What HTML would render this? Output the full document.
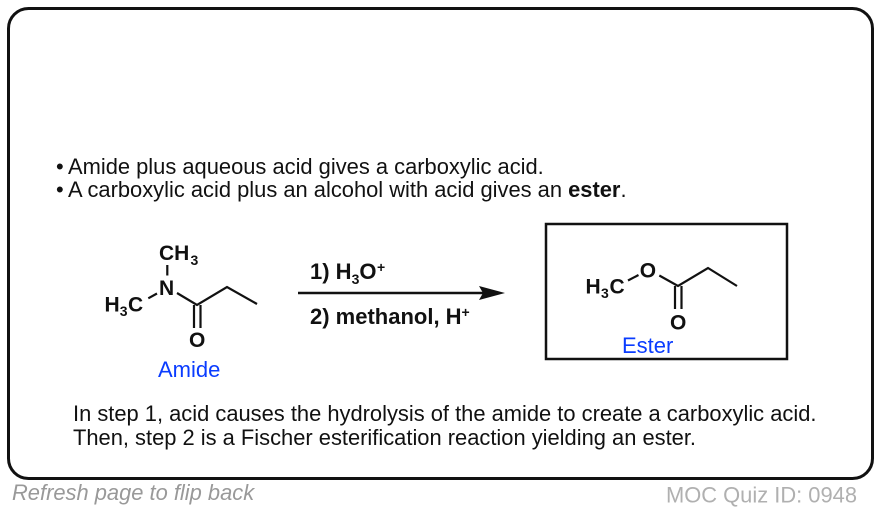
<!DOCTYPE html>
<html>
<head>
<meta charset="utf-8">
<style>
html,body{margin:0;padding:0;background:#fff;width:880px;height:510px;overflow:hidden}
svg{display:block}
text{font-family:"Liberation Sans",Arial,sans-serif}
.t{font-size:21.9px;fill:#111}
.c{font-size:21px;font-weight:bold;fill:#111}
.s{font-size:14px;font-weight:bold;fill:#111}
.r{font-size:22px;font-weight:bold;fill:#111}
.b{font-size:22px;fill:#0a3cff}
.l{stroke:#111;stroke-width:2.2;fill:none;stroke-linecap:butt}
</style>
</head>
<body>
<svg width="880" height="510" viewBox="0 0 880 510" xmlns="http://www.w3.org/2000/svg">
<rect x="8.5" y="8.5" width="864" height="470" rx="20" ry="20" fill="#fff" stroke="#111" stroke-width="3"/>

<text class="t" x="56" y="174">•</text>
<text class="t" x="68" y="174">Amide plus aqueous acid gives a carboxylic acid.</text>
<text class="t" x="56" y="197">•</text>
<text class="t" x="68" y="197">A carboxylic acid plus an alcohol with acid gives an <tspan font-weight="bold">ester</tspan>.</text>

<!-- Amide -->
<text class="c" x="159" y="260">CH</text><text class="s" x="190.5" y="265">3</text>
<text class="c" x="159" y="295">N</text>
<text class="c" x="104.5" y="311.5">H</text><text class="s" x="119.8" y="316">3</text><text class="c" x="128" y="311.5">C</text>
<text class="c" x="189" y="347">O</text>
<path class="l" d="M167.3 265V275.5M148.3 298.3L157 293.5M177 293L197 305L227 287L257 304M194 305V328M200.5 305V328"/>
<text class="b" x="158" y="377">Amide</text>

<!-- Arrow -->
<text class="r" x="310" y="279">1) H</text><text class="s" x="351.6" y="284">3</text><text class="r" x="359.4" y="279">O</text><text class="s" x="377" y="272">+</text>
<line x1="298" y1="293" x2="484" y2="293" stroke="#111" stroke-width="2.5"/>
<polygon points="479,286 505,293 479,300 483,293" fill="#111"/>
<text class="r" x="310" y="324">2) methanol, H</text><text class="s" x="461.5" y="317">+</text>

<!-- Ester box -->
<rect x="546" y="224" width="241" height="135" fill="none" stroke="#111" stroke-width="2.5"/>
<text class="c" x="585.5" y="293.5">H</text><text class="s" x="601" y="298">3</text><text class="c" x="609.5" y="293.5">C</text>
<text class="c" x="639.7" y="277.5">O</text>
<text class="c" x="670" y="329.5">O</text>
<path class="l" d="M628 280.5L638.5 275M659.3 275.5L678 286L708 268L737 286M675 286V309M681.5 286V309"/>
<text class="b" x="622" y="353">Ester</text>

<text class="t" x="73" y="421">In step 1, acid causes the hydrolysis of the amide to create a carboxylic acid.</text>
<text class="t" x="73" y="445">Then, step 2 is a Fischer esterification reaction yielding an ester.</text>

<text x="12" y="500" font-size="21.9" font-style="italic" fill="#999">Refresh page to flip back</text>
<text x="666" y="502.5" font-size="21.9" fill="#b0b0b0">MOC Quiz ID: 0948</text>
</svg>
</body>
</html>
